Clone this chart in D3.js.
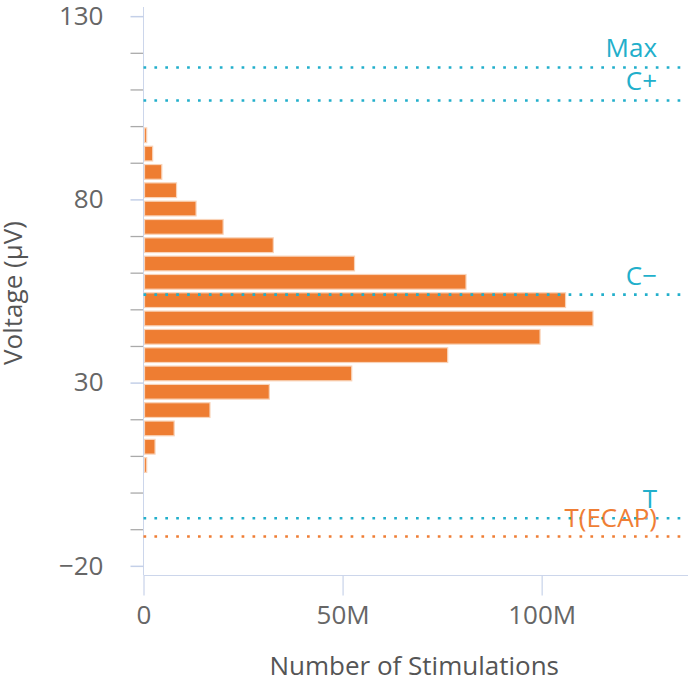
<!DOCTYPE html>
<html>
<head>
<meta charset="utf-8">
<script src="https://cdn.jsdelivr.net/npm/d3@7"></script>
<style>
  html, body { margin: 0; padding: 0; background: #fff; }
  svg { display: block; font-family: "Open Sans", sans-serif; }
</style>
</head>
<body>
<svg id="chart" width="688" height="682"></svg>
<script>
// ---- data ----
const binStarts = [5, 10, 15, 20, 25, 30, 35, 40, 45, 50, 55, 60, 65, 70, 75, 80, 85, 90, 95];
const binWidth = 5;
const counts = [0.8e6, 2.9e6, 7.7e6, 16.7e6, 31.6e6, 52.3e6, 76.4e6, 99.6e6, 112.9e6, 106e6,
                81e6, 53e6, 32.6e6, 20e6, 13.2e6, 8.3e6, 4.6e6, 2.3e6, 0.8e6];
const refNames = ["Max", "C+", "C\u2212", "T", "T(ECAP)"];
const refValues = [116, 107, 54, -7, -12];
const refKinds = ["cyan", "cyan", "cyan", "cyan", "orange"];
const yMajorTicks = [-20, 30, 80, 130];
const yMinorTicks = [-10, 0, 10, 20, 40, 50, 60, 70, 90, 100, 110, 120];
const xTicks = [0, 50e6, 100e6];
const xTitle = "Number of Stimulations";
const yTitle = "Voltage (\u03bcV)";

const colors = { cyan: "#22afcb", orange: "#ef7e35", bar: "#ee7d32", barEdge: "#f9d3b8" };

const svg = d3.select("#chart");
const x = d3.scaleLinear().domain([0, 136e6]).range([143.5, 685]);
const y = d3.scaleLinear().domain([-22.5, 132.5]).range([575, 7]);

// bars
svg.append("g").selectAll("rect").data(binStarts).join("rect")
  .attr("x", x(0) + 1)
  .attr("y", (d) => y(d + binWidth) + 1.8)
  .attr("width", (d, i) => Math.max(0, x(counts[i]) - x(0) - 1))
  .attr("height", (d) => y(d) - y(d + binWidth) - 3.6)
  .attr("fill", colors.bar)
  .attr("stroke", colors.barEdge)
  .attr("stroke-width", 1.2);

// y axis minor ticks
const yMinor = svg.append("g").attr("transform", "translate(143.5,0)")
  .call(d3.axisLeft(y).tickValues(yMinorTicks).tickSize(13).tickFormat(""));
yMinor.select(".domain").remove();
yMinor.selectAll("line").attr("stroke", "#aaaaaa").attr("stroke-width", 1.3);

// y axis major
const yMajor = svg.append("g").attr("transform", "translate(143.5,0)")
  .call(d3.axisLeft(y).tickValues(yMajorTicks).tickSize(13).tickPadding(27).tickFormat(d3.format("d")));
yMajor.select(".domain").attr("stroke", "#ccd6eb").attr("d", "M0,7V575");
yMajor.selectAll("line").attr("stroke", "#c4d0e8").attr("stroke-width", 1.5);
yMajor.selectAll("text").attr("font-size", 26).attr("fill", "#666").attr("font-family", "Open Sans");

// x axis
const xAxis = svg.append("g").attr("transform", "translate(0,575.5)")
  .call(d3.axisBottom(x).tickValues(xTicks).tickSize(20).tickPadding(10)
    .tickFormat((d) => d === 0 ? "0" : (d / 1e6) + "M"));
xAxis.select(".domain").attr("stroke", "#ccd6eb").attr("d", "M143.5,0H688");
xAxis.selectAll("line").attr("stroke", "#ccd6eb").attr("stroke-width", 1.3);
xAxis.selectAll("text").attr("font-size", 26).attr("fill", "#666").attr("font-family", "Open Sans");

// reference lines
const refs = svg.append("g");
refValues.forEach((v, i) => {
  const c = colors[refKinds[i]];
  refs.append("line")
    .attr("x1", x(0)).attr("x2", 688)
    .attr("y1", y(v)).attr("y2", y(v))
    .attr("stroke", c).attr("stroke-width", 2.6)
    .attr("stroke-dasharray", "2.7 8.2");
  refs.append("text")
    .attr("x", 657).attr("y", y(v) - 10)
    .attr("text-anchor", "end")
    .attr("font-size", 26)
    .attr("fill", c)
    .text(refNames[i]);
});

// titles
svg.append("text")
  .attr("x", (x.range()[0] + x.range()[1]) / 2).attr("y", 675)
  .attr("text-anchor", "middle").attr("font-size", 26).attr("fill", "#555")
  .text(xTitle);
svg.append("text")
  .attr("transform", "translate(22,293) rotate(-90)")
  .attr("text-anchor", "middle").attr("font-size", 26).attr("fill", "#555")
  .text(yTitle);
</script>
</body>
</html>
